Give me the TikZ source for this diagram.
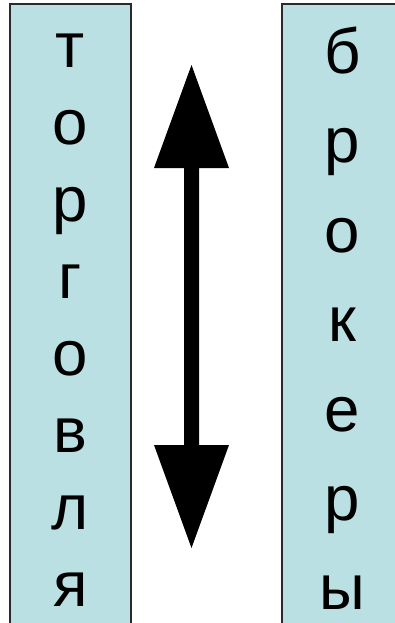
\documentclass[tikz,border=0pt]{standalone}
\usepackage{fontspec}
\setmainfont{Liberation Sans}
\definecolor{boxfill}{HTML}{BBE0E3}
\definecolor{boxline}{HTML}{2A2A2A}
\begin{document}
\begin{tikzpicture}[x=1pt,y=-1pt,
  column/.style={draw=boxline,line width=1.6pt,fill=boxfill,rectangle,inner sep=0pt,
    minimum width=121pt,minimum height=636pt},
  letter/.style={anchor=base,inner sep=0pt,font=\fontsize{63.6}{70}\selectfont},
]
\useasboundingbox (0,0) rectangle (395,623);
\clip (0,0) rectangle (395,623);
\fill[white] (0,0) rectangle (395,623);
% columns
\node[column] (leftcol) at (70.5,322) {};
\node[column] (rightcol) at (342.5,322) {};
% left letters
\foreach \ch [count=\i from 0] in {т,о,р,г,о,в,л,я}{
  \node[letter] (l\i) at (70.5,{68+76.9*\i}) {\ch};
}
% right letters
\foreach \ch [count=\i from 0] in {б,р,о,к,е,р,ы}{
  \node[letter] (r\i) at (342.5,{73.5+89.4*\i}) {\ch};
}
% double arrow
\coordinate (atop) at (191.5,65);
\coordinate (abot) at (191.5,548);
\fill[black] (atop) -- (229,168) -- (199,168) -- (199,445) -- (229,445)
  -- (abot) -- (154,445) -- (184,445) -- (184,168) -- (154,168) -- cycle;
\end{tikzpicture}
\end{document}
